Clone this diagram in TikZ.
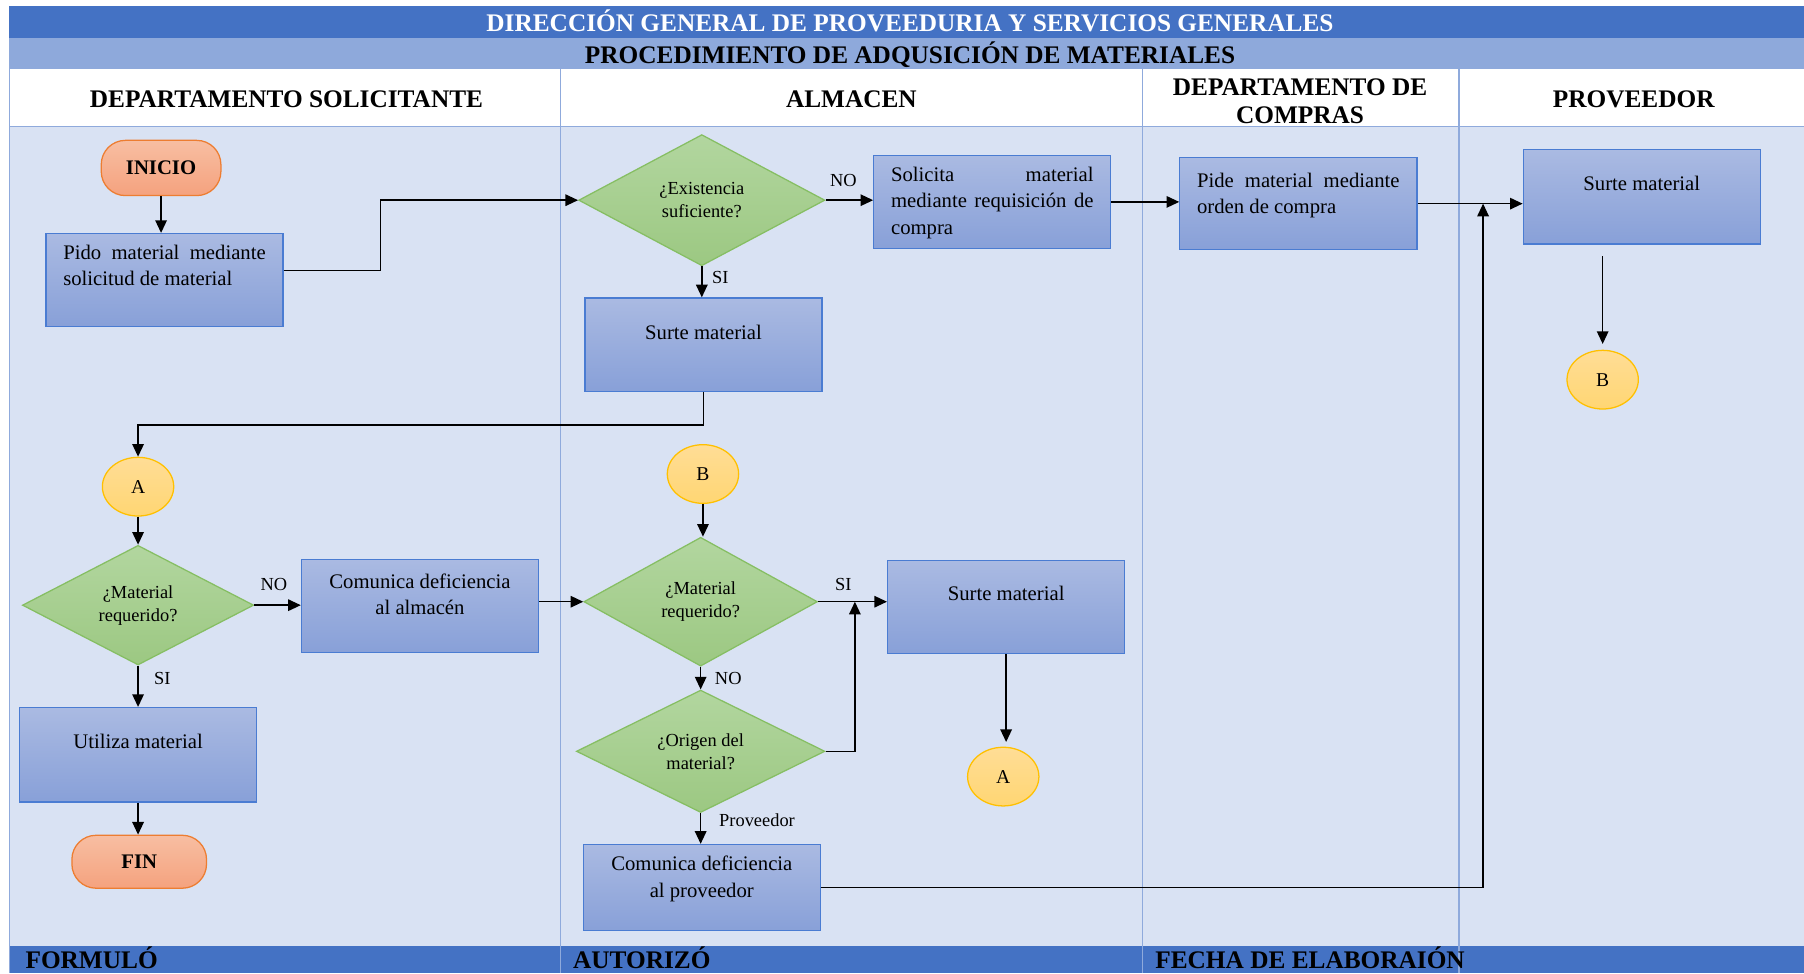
\documentclass[tikz,border=0pt]{standalone}
\usepackage{fontspec}
\setmainfont{Liberation Serif}
\usetikzlibrary{shapes.geometric,arrows.meta,calc}

\definecolor{bandblue}{HTML}{4472C4}
\definecolor{subband}{HTML}{8EA9DB}
\definecolor{lanebg}{HTML}{D9E2F3}
\definecolor{laneline}{HTML}{8FAADC}
\definecolor{proctop}{HTML}{AABAE2}
\definecolor{procbot}{HTML}{88A0D8}
\definecolor{procedge}{HTML}{4A7CD2}
\definecolor{dectop}{HTML}{B2D69F}
\definecolor{decbot}{HTML}{9CC882}
\definecolor{decedge}{HTML}{86BE63}
\definecolor{contop}{HTML}{FFDD96}
\definecolor{conbot}{HTML}{FFD673}
\definecolor{conedge}{HTML}{FFC000}
\definecolor{termtop}{HTML}{F7BEA2}
\definecolor{termbot}{HTML}{F5A27E}
\definecolor{termedge}{HTML}{ED7D31}

% text block of a process box: width, height, space above first line, contents
\newcommand\procbody[4]{\parbox[c][#2][t]{#1}{\hyphenpenalty=10000\vspace*{#3}#4}}

\tikzset{
  hdr/.style={font=\fontsize{22}{25}\selectfont\bfseries, inner sep=0pt, align=center},
  proc/.style={rectangle, draw=procedge, line width=1.1pt, top color=proctop,
    bottom color=procbot, inner xsep=15pt, inner ysep=0pt,
    font=\fontsize{18}{23}\selectfont},
  decis/.style={diamond, draw=decedge, line width=1.1pt, top color=dectop,
    bottom color=decbot, inner sep=0pt, align=center,
    font=\fontsize{16}{20}\selectfont},
  conn/.style={ellipse, draw=conedge, line width=1.1pt, top color=contop,
    bottom color=conbot, minimum width=62pt, minimum height=51pt,
    inner sep=0pt, font=\fontsize{17}{20}\selectfont},
  term/.style={rectangle, rounded corners=21pt, draw=termedge, line width=1.1pt,
    top color=termtop, bottom color=termbot, inner sep=0pt,
    font=\fontsize{18}{22}\selectfont\bfseries},
  lbl/.style={inner sep=0pt, font=\fontsize{16}{18}\selectfont},
  arr/.style={draw=black, line width=1.3pt, -{Triangle[length=11pt,width=10pt]}},
  lane/.style={draw=laneline, line width=1.2pt}
}

\begin{document}
\begin{tikzpicture}[x=1pt,y=-1pt]
\useasboundingbox (0,0) rectangle (1568,846);

% page, title bands, lanes and footer
\fill[white] (0,0) rectangle (1568,846);
\fill[bandblue] (8,5) rectangle (1568,33);
\fill[subband] (8,33) rectangle (1568,60);
\fill[lanebg] (8,110) rectangle (1568,822);
\fill[bandblue] (8,822) rectangle (1568,846);
\draw[lane] (8,110) -- (1568,110);
\foreach \x in {8,487,993,1268} \draw[lane] (\x,60) -- (\x,846);

\node[hdr, text=white, anchor=base] (title) at (791,27)
  {DIRECCIÓN GENERAL DE PROVEEDURIA Y SERVICIOS GENERALES};
\node[hdr, anchor=base] (subtitle) at (791,55)
  {PROCEDIMIENTO DE ADQUSICIÓN DE MATERIALES};
\node[hdr] (h1) at (249,86) {DEPARTAMENTO SOLICITANTE};
\node[hdr] (h2) at (740,86) {ALMACEN};
\node[hdr] (h3) at (1130,88) {DEPARTAMENTO DE\\COMPRAS};
\node[hdr] (h4) at (1420,86) {PROVEEDOR};

\node[hdr, anchor=base west] (f1) at (22,842) {FORMULÓ};
\node[hdr, anchor=base west] (f2) at (498,842) {AUTORIZÓ};
\node[hdr, anchor=base west] (f3) at (1004,842) {FECHA DE ELABORAIÓN};

% departamento solicitante
\node[term, minimum width=104pt, minimum height=48pt] (ini) at (140,146) {INICIO};
\node[proc] (b1) at (143,243.5)
  {\procbody{176pt}{81pt}{10pt}{Pido material mediante\linebreak solicitud de material}};
\node[conn] (A1) at (120,423) {A};
\node[decis, minimum width=201pt, minimum height=104pt] (d2) at (120,526)
  {¿Material\\requerido?};
\node[proc] (com1) at (365,526.5)
  {\procbody{176pt}{81pt}{12.5pt}{\centering Comunica deficiencia\\al almacén}};
\node[proc] (util) at (120,656)
  {\procbody{176pt}{82pt}{23.5pt}{\centering Utiliza material}};
\node[term, minimum width=117pt, minimum height=46pt] (fin) at (121,749) {FIN};

% almacen
\node[decis, minimum width=214pt, minimum height=114pt] (d1) at (610,174)
  {¿Existencia\\suficiente?};
\node[proc] (s1) at (611.5,299.5)
  {\procbody{176pt}{81pt}{23.5pt}{\centering Surte material}};
\node[proc] (sol) at (862.5,175.5)
  {\procbody{176pt}{81pt}{10pt}{Solicita\hfill material\linebreak mediante requisición de\linebreak compra}};
\node[conn] (B2) at (611,412) {B};
\node[decis, minimum width=203pt, minimum height=112pt] (d3) at (609,523)
  {¿Material\\requerido?};
\node[decis, minimum width=216pt, minimum height=102pt] (d4) at (609,653)
  {¿Origen del\\material?};
\node[proc] (com2) at (610,771.5)
  {\procbody{176pt}{75pt}{10pt}{\centering Comunica deficiencia\\al proveedor}};
\node[proc] (s2) at (874.5,527.5)
  {\procbody{176pt}{81pt}{22.5pt}{\centering Surte material}};
\node[conn] (A2) at (872,675) {A};

% departamento de compras
\node[proc] (pide) at (1128.5,177)
  {\procbody{176pt}{80pt}{13.5pt}{Pide material mediante\linebreak orden de compra}};

% proveedor
\node[proc] (prov) at (1427,171)
  {\procbody{176pt}{82pt}{23.5pt}{\centering Surte material}};
\node[conn] (B1) at (1393,330) {B};

% branch labels
\node[lbl] (l1) at (733,157) {NO};
\node[lbl] (l2) at (626,241) {SI};
\node[lbl] (l3) at (238,508) {NO};
\node[lbl] (l4) at (141,590) {SI};
\node[lbl] (l5) at (733,508) {SI};
\node[lbl] (l6) at (633,590) {NO};
\node[lbl] (l7) at (658,713) {Proveedor};

% junction points on the horizontal flows
\coordinate (j1) at ($(d3.east)+(32,0)$);
\coordinate (j2) at ($(pide.east)+(57,0)$);
\coordinate (pb) at ([yshift=-10pt]prov.south);

% connectors
\draw[arr] (ini.south) -- (ini.south |- b1.north);
\draw[arr] ($(b1.north east)!0.4!(b1.south east)$) -- ++(84,0) |- (d1.west);
\draw[arr] (d1.east) -- (d1.east -| sol.west);
\draw[arr] (sol.east) -- (sol.east -| pide.west);
\draw[arr] (pide.east) -- (pide.east -| prov.west);
\draw[arr, shorten >=5pt] (pb -| B1.north) -- (B1.north);
\draw[arr] (d1.south) -- (d1.south |- s1.north);
\draw[arr] (s1.south) -- ++(0,29) -| (A1.north);
\draw[arr] (A1.south) -- (d2.north);
\draw[arr] (d2.east) -- (d2.east -| com1.west);
\draw[arr] (com1.east |- d3.west) -- (d3.west);
\draw[arr] (d2.south) -- (d2.south |- util.north);
\draw[arr] (util.south) -- (util.south |- fin.north);
\draw[arr] (B2.south) -- (B2.south |- d3.north);
\draw[arr] (d3.east) -- (d3.east -| s2.west);
\draw[arr] (d3.south) -- (d4.north);
\draw[arr] (d4.east) -| (j1);
\draw[arr] (d4.south) -- (d4.south |- com2.north);
\draw[arr, shorten >=4pt] (s2.south) -- (s2.south |- A2.north);
\draw[arr] (com2.east) -| (j2);
\end{tikzpicture}
\end{document}
